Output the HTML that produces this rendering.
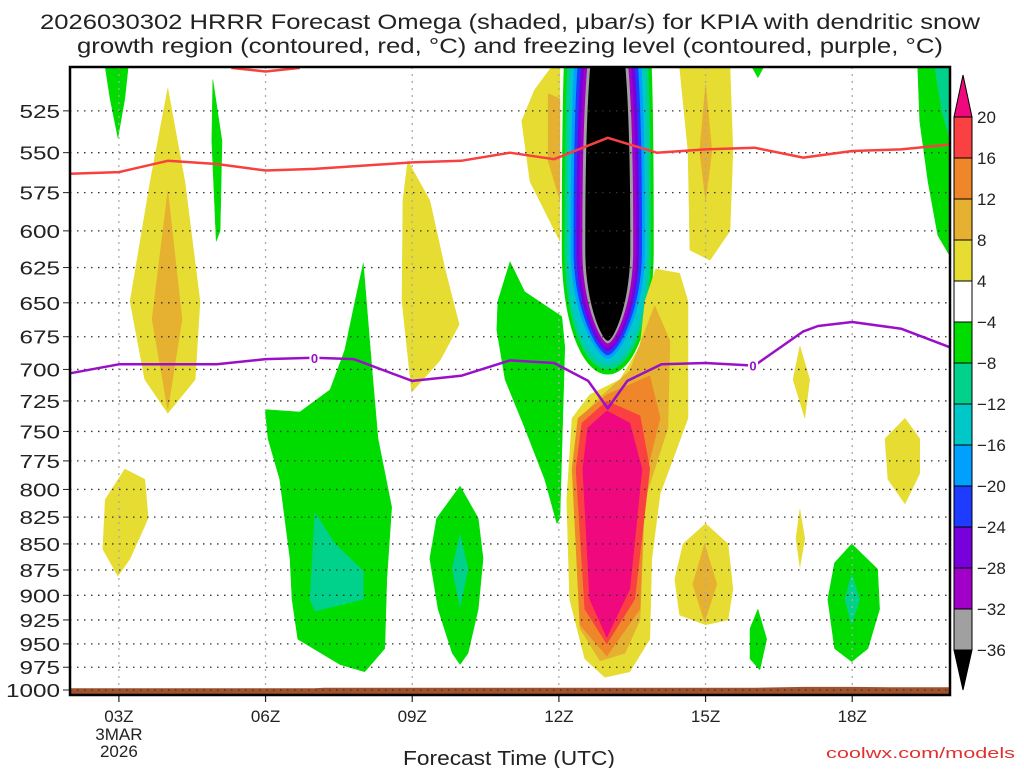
<!DOCTYPE html>
<html><head><meta charset="utf-8">
<style>
body{margin:0;background:#fff;width:1024px;height:768px;overflow:hidden;font-family:"Liberation Sans",sans-serif}
svg text{font-family:"Liberation Sans",sans-serif}
</style></head>
<body>
<svg id="chart" width="1024" height="768" xmlns="http://www.w3.org/2000/svg">
<g id="fills"></g>
<g id="grid"></g>
<g id="lines"></g>
<g id="axes"></g>
<g id="cbar"></g>
<text x="40" y="29" font-size="21" textLength="940" lengthAdjust="spacingAndGlyphs" fill="#222">2026030302 HRRR Forecast Omega (shaded, μbar/s) for KPIA with dendritic snow</text>
<text x="77" y="53" font-size="21" textLength="866" lengthAdjust="spacingAndGlyphs" fill="#222">growth region (contoured, red, °C) and freezing level (contoured, purple, °C)</text>
<text x="403" y="765" font-size="20" textLength="212" lengthAdjust="spacingAndGlyphs" fill="#222">Forecast Time (UTC)</text>
<text x="826" y="758" font-size="15" textLength="189" lengthAdjust="spacingAndGlyphs" fill="#e03030">coolwx.com/models</text>
</svg>
<script>
const pTicks=[525,550,575,600,625,650,675,700,725,750,775,800,825,850,875,900,925,950,975,1000];
const hTicks=[3,6,9,12,15,18];
const hLabels=["03Z","06Z","09Z","12Z","15Z","18Z"];
const cbLabels=["20","16","12","8","4","−4","−8","−12","−16","−20","−24","−28","−32","−36"];
const cbColors=["#fa4040","#f0862a","#e6b030","#e6dc32","#ffffff","#00dc00","#00d28c","#00c8c8","#00a0ff","#1e3cff","#7800dc","#a000c8","#a0a0a0"];
// red DGZ line
const redH=[2,3,4,5,6,7,8,9,10,11,11.9,13,14,15,16,17,18,19,20];
const redP=[563,562,555,557,561,560,558,556,555,550,554,541,550,548,547,553,549,548,545];
const redTopH=[5.3,6,6.7];
const redTopP=[500.5,502.5,500.5];
// purple freezing level
const frzH=[2,3,4,5,6,7,7.8,9,10,11,11.9,12.6,13,13.4,14.1,15,16,17,17.3,18,19,20];
const frzP=[703,696,696,696,692,691,692,709,705,693,695,709,731,709,696,695,697,671,667,664,669,683];
const frzLabelH=[7,15.97];
const frzLabelP=[691,697];
// central upward-motion column (levels -4 .. <-36)
const colCenter=13.0;
const colColors=["#00dc00","#00d28c","#00c8c8","#00a0ff","#1e3cff","#7800dc","#a000c8","#a0a0a0","#000000"];
const colHalf=[0.94,0.88,0.82,0.76,0.70,0.64,0.58,0.52,0.46];
const colTopHalf=[0.9,0.83,0.76,0.69,0.62,0.55,0.48,0.42,0.36];
const colBottom=[704,700,696,692,689,686,683,680,678];
// shaded polygons [color, [[hour,pressure],...]]
const shapes=[
["#00dc00",[[2.72,500],[3.19,500],[3.12,518],[2.98,541],[2.82,518]]],
["#e6dc32",[[4.0,512],[4.35,568],[4.66,649],[4.56,708],[4.0,735],[3.53,708],[3.23,649],[3.64,568]]],
["#e6b030",[[4.0,574],[4.29,662],[4.0,732],[3.68,662]]],
["#00dc00",[[4.92,507],[5.11,543],[5.07,600],[4.99,607],[4.9,543]]],
["#e6dc32",[[3.12,782],[3.53,791],[3.6,826],[3.23,864],[2.98,881],[2.67,855],[2.72,809]]],
["#00dc00",[[8.0,622],[8.18,701],[8.3,756],[8.58,816],[8.48,884],[8.44,955],[8.03,980],[7.52,972],[6.66,945],[6.54,904],[6.5,864],[6.29,791],[6.05,756],[5.99,732],[6.7,734],[7.32,716],[7.62,685],[7.83,649]]],
["#00d28c",[[7.01,821],[7.42,850],[8.0,876],[8.0,904],[7.01,916],[6.91,904]]],
["#e6dc32",[[8.91,555],[9.36,580],[9.67,626],[9.96,666],[9.57,693],[8.99,718],[8.79,649],[8.81,580]]],
["#00dc00",[[9.98,797],[10.35,826],[10.45,864],[10.35,914],[10.14,960],[9.98,972],[9.82,960],[9.53,914],[9.36,864],[9.5,826]]],
["#00d28c",[[9.98,841],[10.14,874],[9.98,912],[9.82,874]]],
["#00dc00",[[11.0,621],[11.3,642],[12.06,660],[12.12,683],[12.02,826],[11.96,831],[11.71,791],[11.3,747],[10.9,708],[10.73,670],[10.75,649]]],
["#e6dc32",[[11.82,501],[12.02,500],[12.02,607],[11.41,568],[11.24,531],[11.5,513]]],
["#e6b030",[[11.78,515],[12.02,518],[12.02,580],[11.78,555]]],
["#e6dc32",[[14.47,500],[15.5,500],[15.56,549],[15.5,600],[15.09,620],[14.68,613],[14.64,549]]],
["#e6b030",[[15.0,510],[15.13,549],[15.0,580],[14.88,549]]],
["#e6dc32",[[13.98,626],[14.47,629],[14.64,649],[14.64,739],[14.07,804],[13.9,864],[13.86,945],[13.45,980],[12.94,986],[12.53,966],[12.22,904],[12.16,809],[12.27,739],[12.63,720],[13.25,708],[13.66,682],[13.76,649]]],
["#e6b030",[[13.96,652],[14.27,678],[14.23,747],[13.76,809],[13.66,925],[13.35,960],[12.84,968],[12.43,934],[12.33,826],[12.43,739],[12.84,722],[13.45,701]]],
["#f0862a",[[12.98,720],[13.86,705],[14.07,739],[13.76,791],[13.66,914],[12.98,963],[12.43,930],[12.27,782],[12.39,739]]],
["#fa4040",[[12.98,725],[13.66,737],[13.86,782],[13.55,904],[12.98,950],[12.53,914],[12.35,782],[12.47,743]]],
["#f0087f",[[12.98,733],[13.45,743],[13.7,782],[13.45,894],[12.98,943],[12.63,904],[12.49,782],[12.59,747]]],
["#e6dc32",[[15.0,831],[15.46,850],[15.56,894],[15.46,925],[15.0,930],[14.47,920],[14.37,884],[14.54,850]]],
["#e6b030",[[14.98,850],[15.23,889],[14.98,927],[14.74,889]]],
["#00dc00",[[16.07,914],[16.25,945],[16.11,978],[15.91,966],[15.91,934]]],
["#e6dc32",[[16.93,682],[17.13,708],[17.03,739],[16.79,708]]],
["#e6dc32",[[16.93,818],[17.03,845],[16.93,872],[16.85,845]]],
["#00dc00",[[17.99,850],[18.52,874],[18.56,914],[18.32,955],[17.99,969],[17.64,955],[17.5,904],[17.64,868]]],
["#00d28c",[[17.99,879],[18.15,904],[17.99,930],[17.85,904]]],
["#e6dc32",[[19.08,739],[19.38,756],[19.38,786],[19.08,813],[18.73,791],[18.67,756]]],
["#00dc00",[[19.34,500],[19.98,500],[19.98,616],[19.75,603],[19.55,568],[19.38,531]]],
["#00d28c",[[19.69,500],[19.98,500],[19.98,540],[19.83,525]]],
["#00dc00",[[15.95,500],[16.19,500],[16.07,506]]]
];
const terrainH=[2,7,7.2,16,17,18,19,20];
const terrainP=[998,998,997.5,997.5,996.5,996.5,997,997];

const X0=70,X1=950,Y0=67,Y1=690,H0=2,H1=20,P0=500,P1=1000;
const xs=h=>X0+(h-H0)/(H1-H0)*(X1-X0);
const ys=p=>Y1-(Y1-Y0)*Math.log(P1/p)/Math.log(P1/P0);
const NS="http://www.w3.org/2000/svg";
function mk(tag,attrs,parent){const e=document.createElementNS(NS,tag);for(const k in attrs)e.setAttribute(k,attrs[k]);parent.appendChild(e);return e;}
const fills=document.getElementById('fills'),grid=document.getElementById('grid'),lines=document.getElementById('lines'),axes=document.getElementById('axes'),cbar=document.getElementById('cbar');

mk('rect',{x:X0,y:Y0,width:X1-X0,height:Y1-Y0,fill:'#fff'},fills);
colColors.forEach((c,i)=>{
  const y0=ys(P0),ym=ys(613),yb=ys(colBottom[i]);
  const cx=xs(colCenter),hw=xs(colCenter+colHalf[i])-cx,tw=xs(colCenter+colTopHalf[i])-cx;
  const round=i<3?0.55:0.25;
  const d=`M${cx-tw},${y0} C${cx-hw},${y0+60} ${cx-hw},${ym-40} ${cx-hw},${ym} C${cx-hw},${ym+(yb-ym)*0.6} ${cx-hw*round},${yb} ${cx},${yb} C${cx+hw*round},${yb} ${cx+hw},${ym+(yb-ym)*0.6} ${cx+hw},${ym} C${cx+hw},${ym-40} ${cx+hw},${y0+60} ${cx+tw},${y0} Z`;
  const e=mk('path',{d:d,fill:c},fills);
  
  
});
shapes.forEach((s,i)=>{
  const pts=s[1].map(q=>xs(q[0]).toFixed(1)+','+ys(q[1]).toFixed(1)).join(' ');
  const e=mk('polygon',{points:pts,fill:s[0],'stroke':s[0],'stroke-width':0.5,'stroke-linejoin':'round'},fills);
  
  
});
{
 let d=`M${X0},${Y1+5}`;terrainH.forEach((h,i)=>{d+=` L${xs(h)},${ys(terrainP[i])}`});d+=` L${X1},${Y1+5} Z`;
 const e=mk('path',{d:d,fill:'#a0522d'},fills);
 
 
}
pTicks.forEach(p=>{
  const y=ys(p);
  const e=mk('line',{x1:X0,x2:X1,y1:y,y2:y,stroke:'#333','stroke-width':1.3,'stroke-dasharray':'1.5,5.5'},grid);
  
  
  const len=String(p).length*13.5;
  const t=mk('text',{x:60-len,y:y+7,'font-size':18,textLength:len,lengthAdjust:'spacingAndGlyphs',fill:'#222'},axes);t.textContent=p;
  
  
  mk('line',{x1:63,x2:X0,y1:y,y2:y,stroke:'#222','stroke-width':1},axes);
});
hTicks.forEach((h,i)=>{
  const x=xs(h);
  const e=mk('line',{x1:x,x2:x,y1:Y0,y2:Y1,stroke:'#aaa','stroke-width':1.3,'stroke-dasharray':'2,5'},grid);
  
  
  mk('line',{x1:x,x2:x,y1:Y1+5,y2:Y1+12,stroke:'#222','stroke-width':1.2},axes);
  const t=mk('text',{x:x,y:722,'font-size':17,'text-anchor':'middle',fill:'#222'},axes);t.textContent=hLabels[i];
  
  
});
[["3MAR",740],["2026",757]].forEach(a=>{const t=mk('text',{x:xs(3),y:a[1],'font-size':17,'text-anchor':'middle',fill:'#222'},axes);t.textContent=a[0];
 
 });
function poly(hs,ps,color,name){
  const pts=hs.map((h,i)=>xs(h).toFixed(1)+','+ys(ps[i]).toFixed(1)).join(' ');
  const e=mk('polyline',{points:pts,fill:'none',stroke:color,'stroke-width':2.5,'stroke-linejoin':'round'},lines);
  
  
}
poly(redH,redP,'#f84040','dgz-line');
poly(redTopH,redTopP,'#f84040','dgz-line-top');
poly(frzH,frzP,'#9a10c8','freezing-level-line');
frzLabelH.forEach((h,i)=>{
  const x=xs(h),y=ys(frzLabelP[i]);
  mk('rect',{x:x-5,y:y-7,width:10,height:14,fill:'#fff'},lines);
  const t=mk('text',{x:x,y:y+5,'font-size':13,'font-weight':'bold','text-anchor':'middle',fill:'#9a10c8'},lines);t.textContent='0';
  
  
});
mk('rect',{x:X0,y:Y0,width:X1-X0,height:Y1+5-Y0,fill:'none',stroke:'#000','stroke-width':2.5},axes);
const CB0=117,CBH=(650-117)/13,CX=954,CW=18;
mk('polygon',{points:`${CX},${CB0} ${CX+CW},${CB0} ${CX+CW/2},75`,fill:'#f0087f',stroke:'#000','stroke-width':1},cbar);
cbColors.forEach((c,i)=>{
  const e=mk('rect',{x:CX,y:CB0+i*CBH,width:CW,height:CBH,fill:c,stroke:'#000','stroke-width':1},cbar);
  
  
});
mk('polygon',{points:`${CX},650 ${CX+CW},650 ${CX+CW/2},690`,fill:'#000',stroke:'#000','stroke-width':1},cbar);
cbLabels.forEach((l,i)=>{
  const t=mk('text',{x:977,y:CB0+i*CBH+6,'font-size':17,fill:'#222'},cbar);t.textContent=l;
  
  
});
</script>
</body></html>
